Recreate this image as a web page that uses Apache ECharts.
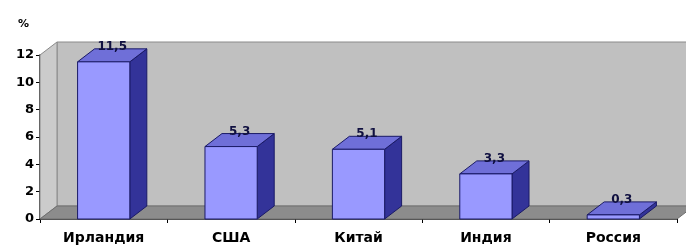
<!DOCTYPE html>
<html>
<head>
<meta charset="utf-8">
<script src="https://cdn.jsdelivr.net/npm/echarts@6/dist/echarts.min.js"></script>
<style>
  html, body { margin: 0; padding: 0; background: #fff; }
  #chart { width: 686px; height: 248px; }
</style>
</head>
<body>
<div id="chart"></div>
<script>
// данные
var countries = ['Ирландия', 'США', 'Китай', 'Индия', 'Россия'];
var values = [11.5, 5.3, 5.1, 3.3, 0.3];
var yMax = 12;
var yStep = 2;

// 3D-смещение (глубина)
var DX = 17, DY = -13;

var myChart = echarts.init(document.getElementById('chart'));

// стенки и пол
function renderWalls(params, api) {
	var band = api.size([1, 0])[0];
	var first = api.coord([0, 0]);
	var last = api.coord([countries.length - 1, 0]);
	var L = first[0] - band / 2, R = last[0] + band / 2;
	var B = first[1], T = api.coord([0, yMax])[1];
	return {
		type: 'group',
		children: [{
			type: 'polygon',
			shape: { points: [[L + DX, T + DY], [R + DX, T + DY], [R + DX, B + DY], [L + DX, B + DY]] },
			style: { fill: '#c0c0c0', stroke: '#8a8a8a', lineWidth: 1 }
		}, {
			type: 'polygon',
			shape: { points: [[L, T], [L + DX, T + DY], [L + DX, B + DY], [L, B]] },
			style: { fill: '#cbcbcb', stroke: '#8a8a8a', lineWidth: 1 }
		}, {
			type: 'polygon',
			shape: { points: [[L, B], [R, B], [R + DX, B + DY], [L + DX, B + DY]] },
			style: { fill: '#8c8c8c', stroke: '#6e6e6e', lineWidth: 1 }
		}]
	};
}

// объёмные столбики
function renderBar(params, api) {
	var band = api.size([1, 0])[0];
	var w = band * 0.41;
	var top = api.coord([api.value(0), api.value(1)]);
	var base = api.coord([api.value(0), 0]);
	var x0 = top[0] - w / 2, x1 = top[0] + w / 2;
	var y0 = top[1], y1 = base[1];
	var line = { stroke: '#1a1a66', lineWidth: 1 };
	var label = String(api.value(1)).replace('.', ',');
	return {
		type: 'group',
		children: [{
			type: 'polygon',
			shape: { points: [[x1, y0], [x1 + DX, y0 + DY], [x1 + DX, y1 + DY], [x1, y1]] },
			style: Object.assign({ fill: '#333399' }, line)
		}, {
			type: 'polygon',
			shape: { points: [[x0, y0], [x1, y0], [x1 + DX, y0 + DY], [x0 + DX, y0 + DY]] },
			style: Object.assign({ fill: '#6f6fd8' }, line)
		}, {
			type: 'rect',
			shape: { x: x0, y: y0, width: w, height: y1 - y0 },
			style: Object.assign({ fill: '#9999ff' }, line)
		}, {
			type: 'text',
			x: top[0] + DX / 2,
			y: y0 + DY + 4,
			style: {
				text: label,
				fill: '#101040',
				font: 'bold 12px "DejaVu Sans"',
				align: 'center',
				verticalAlign: 'bottom'
			}
		}]
	};
}

var option = {
	animation: false,
	backgroundColor: '#ffffff',
	title: {
		text: '%',
		left: 13,
		top: 14,
		textStyle: { fontSize: 11, fontWeight: 'bold', color: '#000', fontFamily: 'DejaVu Sans' }
	},
	grid: { left: 40, right: 9, top: 55, bottom: 29 },
	xAxis: {
		type: 'category',
		data: countries,
		axisLine: { lineStyle: { color: '#000', width: 1.5 } },
		axisTick: { show: true, length: 4, lineStyle: { color: '#000' } },
		axisLabel: {
			color: '#000',
			fontWeight: 'bold',
			fontSize: 14,
			fontFamily: 'DejaVu Sans',
			margin: 12
		},
		splitLine: { show: false }
	},
	yAxis: {
		type: 'value',
		min: 0,
		max: yMax,
		interval: yStep,
		axisLine: { show: true, lineStyle: { color: '#000', width: 1.5 } },
		axisTick: { show: true, length: 4, lineStyle: { color: '#000' } },
		axisLabel: {
			color: '#000',
			fontWeight: 'bold',
			fontSize: 13,
			fontFamily: 'DejaVu Sans',
			margin: 6
		},
		splitLine: { show: false }
	},
	series: [{
		type: 'custom',
		name: 'walls',
		data: [[0, 0]],
		renderItem: renderWalls,
		z: 1,
		silent: true
	}, {
		type: 'custom',
		name: 'bars',
		data: values.map(function(v, i) { return [i, v]; }),
		renderItem: renderBar,
		z: 2
	}]
};

myChart.setOption(option);
</script>
</body>
</html>
